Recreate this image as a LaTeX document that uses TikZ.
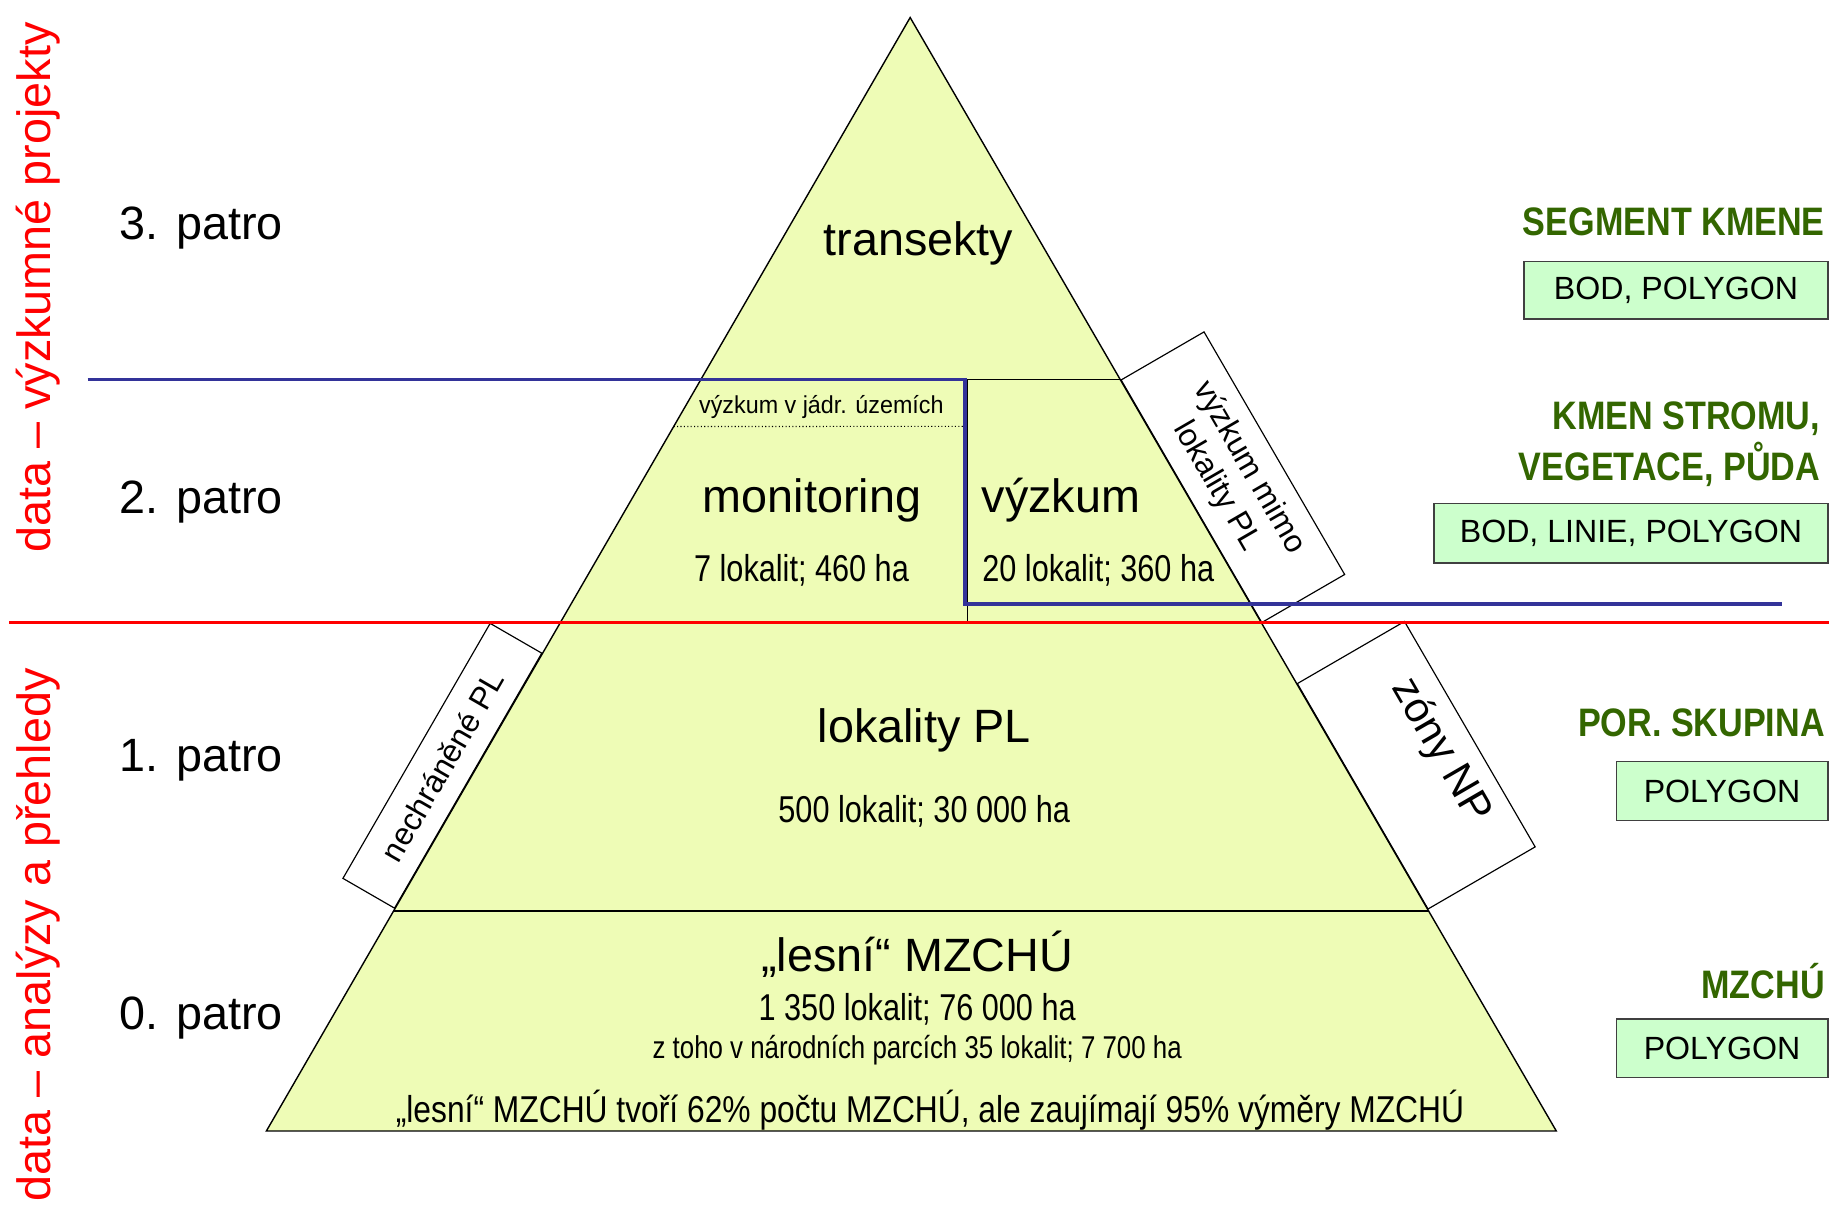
\documentclass[tikz,border=0pt]{standalone}
\usepackage{fontspec}
\setmainfont{Liberation Sans}
\usepackage{graphicx}
\usetikzlibrary{positioning,calc}

\definecolor{pyrfill}{RGB}{238,252,182}
\definecolor{boxfill}{RGB}{204,255,204}
\definecolor{labgreen}{RGB}{51,102,0}
\definecolor{lineblue}{RGB}{51,51,153}

\newcommand{\fsz}[2]{\fontsize{#1}{#2}\selectfont}
\newcommand{\narrow}[2][0.82]{\scalebox{#1}[1]{#2}}

\begin{document}
\begin{tikzpicture}[
    x=1pt, y=-1pt,
    level/.style={font=\fsz{40}{46}},
    stat/.style={font=\fsz{32}{38}},
    floor/.style={font=\fsz{40}{46}, anchor=west},
    halfdata/.style={text=red, font=\fsz{40}{46}, rotate=90},
    sidebox/.style={draw, line width=1pt, font=\fsz{27}{32}, align=center, inner sep=0pt},
    datalabel/.style={text=labgreen, font=\bfseries\fsz{34}{44}, anchor=east, align=right, inner sep=0pt},
    geombox/.style={draw=black!75, fill=boxfill, line width=1.2pt, font=\fsz{27.5}{30}, inner sep=0pt, anchor=east}
  ]
  \useasboundingbox (0,0) rectangle (1568,1035);

  % Pyramid
  \coordinate (apex) at (779,15);
  \coordinate (bl) at (228,968);
  \coordinate (br) at (1332,968);
  \filldraw[fill=pyrfill, line width=1.2pt] (apex) -- (br) -- (bl) -- cycle;

  % Floor boundaries
  \draw[line width=0.8pt] ($(apex)!0.3253!(bl)$) -- ($(apex)!0.3253!(br)$);
  \draw[line width=0.8pt] ($(apex)!0.5435!(bl)$) -- ($(apex)!0.5435!(br)$);
  \draw[line width=1.6pt] ($(apex)!0.8027!(bl)$) -- ($(apex)!0.8027!(br)$);
  \draw[line width=0.8pt] (828,325) -- (828,533);
  \draw[line width=0.9pt, dotted] ($(apex)!0.3673!(bl)$) -- (826,365);

  % Side boxes
  \node[sidebox, rotate=-59.9, anchor=south west, minimum width=240, minimum height=82]
    (mimo) at ($(apex)!0.3253!(br)$) {výzkum mimo\\lokality PL};
  \node[sidebox, rotate=-59.9, anchor=south west, minimum width=223, minimum height=106]
    (zony) at ($(apex)!0.598!(br)$) {};
  \node[rotate=-59.9, font=\fsz{36}{40}] (zonytext) at ($(zony.center)!0.45!(zony.north)$) {zóny NP};
  \node[sidebox, rotate=60, anchor=south west, minimum width=252, minimum height=51]
    (nechr) at ($(apex)!0.8006!(bl)$) {nechráněné PL};

  % Dividing lines
  \draw[lineblue, line width=3pt] (75,325) -- (826,325) -- (826,517) -- (1525,517);
  \draw[red, line width=3pt] (8,533) -- (1565,533);

  % Floor labels
  \node[floor] (p3) at (99,195) {3. patro};
  \node[floor] (p2) at (99,430) {2. patro};
  \node[floor] (p1) at (99,651) {1. patro};
  \node[floor] (p0) at (99,871) {0. patro};

  \node[halfdata] (research) at (33,246) {data – výzkumné projekty};
  \node[halfdata] (analysis) at (33,800) {data – analýzy a přehledy};

  % Pyramid texts
  \node[level] (transekty) at (786,208) {transekty};
  \node[font=\fsz{21}{24}] (jadr) at (703,348) {\narrow[0.95]{výzkum v jádr. územích}};
  \node[level] (monit) at (695,428) {monitoring};
  \node[stat] (monitstat) at (686,488) {\narrow{7 lokalit; 460 ha}};
  \node[level] (vyzkum) at (908,428) {výzkum};
  \node[stat] (vyzkumstat) at (940,488) {\narrow{20 lokalit; 360 ha}};
  \node[level] (lokality) at (791,625) {lokality PL};
  \node[stat] (lokalitystat) at (791,694) {\narrow{500 lokalit; 30 000 ha}};
  \node[level] (mzchu) at (785,817) {„lesní“ MZCHÚ};
  \node[stat] (mzchustat) at (785,864) {\narrow{1 350 lokalit; 76 000 ha}};
  \node[font=\fsz{27}{30}] (parky) at (785,899) {\narrow{z toho v národních parcích 35 lokalit; 7 700 ha}};
  \node[stat] (podil) at (796,950) {\narrow[0.85]{„lesní“ MZCHÚ tvoří 62\% počtu MZCHÚ, ale zaujímají 95\% výměry MZCHÚ}};

  % Data labels on the right
  \node[datalabel] (segment) at (1562,190) {\narrow[0.86]{SEGMENT KMENE}};
  \node[geombox, minimum width=260, minimum height=49] (segmentbox) at (1565,248.5) {BOD, POLYGON};
  \node[datalabel] (kmen) at (1558,380) {\narrow[0.86]{KMEN STROMU,}\\\narrow[0.86]{VEGETACE, PŮDA}};
  \node[geombox, minimum width=337, minimum height=51] (kmenbox) at (1565,456.5) {BOD, LINIE, POLYGON};
  \node[datalabel] (skupina) at (1562,619) {\narrow[0.86]{POR. SKUPINA}};
  \node[geombox, minimum width=181, minimum height=50] (skupinabox) at (1565,677) {POLYGON};
  \node[datalabel] (mzchulab) at (1562,840) {\narrow[0.86]{MZCHÚ}};
  \node[geombox, minimum width=181, minimum height=50] (mzchubox) at (1565,897) {POLYGON};

\end{tikzpicture}
\end{document}
